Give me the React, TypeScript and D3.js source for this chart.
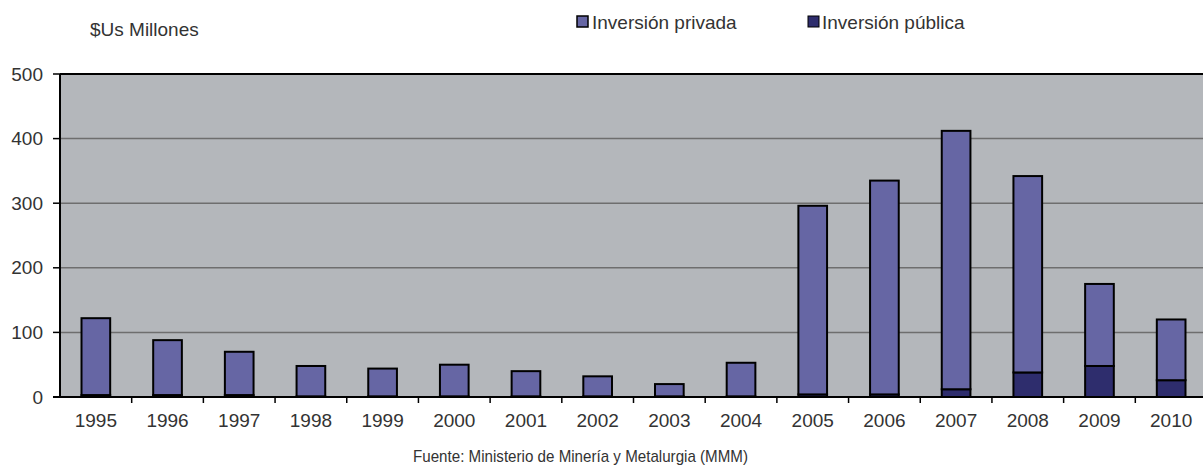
import * as d3 from "d3";
import React from "react";

const years = ["1995","1996","1997","1998","1999","2000","2001","2002","2003","2004","2005","2006","2007","2008","2009","2010"];
const publica = [3, 3, 3, 1, 1, 1, 1, 1, 1, 1, 4, 4, 12, 38, 48, 26];
const privada = [119, 85, 67, 47, 43, 49, 39, 31, 19, 52, 292, 331, 400, 304, 127, 94];
const yTicks = [0, 100, 200, 300, 400, 500];

const W = 1203;
const H = 466;
const margin = { top: 74, right: -4, bottom: 69, left: 60 };
const font = "'Liberation Sans', Arial, sans-serif";

export default function App() {
  const innerW = W - margin.left - margin.right;
  const innerH = H - margin.top - margin.bottom;

  const x = d3.scaleBand<string>().domain(years).range([0, innerW]).paddingInner(0.6).paddingOuter(0.3);
  const step = x.step();
  const y = d3.scaleLinear().domain([0, 500]).range([innerH, 0]);

  const rows = years.map((yr, i) => ({ yr, publica: publica[i], privada: privada[i] }));
  const stacked = d3.stack<any>().keys(["publica", "privada"])(rows);
  const colors: Record<string, string> = { publica: "#2e2d6d", privada: "#6666a4" };

  const bandStart = (yr: string) => (x(yr) as number) - x.paddingOuter() * step;

  return (
    <svg width={W} height={H} style={{ position: "absolute", left: 0, top: 0, background: "#fff" }}>
      <g transform={`translate(${margin.left},${margin.top})`}>
        <rect x={0} y={0} width={innerW} height={innerH} fill="#b4b7bb" />
        {yTicks.filter((t) => t > 0 && t < 500).map((t) => (
          <line key={t} x1={0} x2={innerW} y1={y(t)} y2={y(t)} stroke="#6e6e6e" strokeWidth={1.5} />
        ))}
        {stacked.map((layer) => (
          <g key={layer.key} fill={colors[layer.key]}>
            {layer.map((d, i) => (
              <rect
                key={i}
                x={x(years[i])}
                y={y(d[1])}
                width={x.bandwidth()}
                height={Math.max(0, y(d[0]) - y(d[1]))}
                stroke="#000"
                strokeWidth={2}
              />
            ))}
          </g>
        ))}
        {/* top border */}
        <line x1={0} x2={innerW} y1={0} y2={0} stroke="#000" strokeWidth={2} />
        {/* y axis */}
        <line x1={0} x2={0} y1={0} y2={innerH} stroke="#000" strokeWidth={2} />
        {yTicks.map((t) => (
          <g key={t} transform={`translate(0,${y(t)})`}>
            <line x1={-7} x2={0} stroke="#000" strokeWidth={1.5} />
            <text x={-17} dy="0.35em" textAnchor="end" fontFamily={font} fontSize={19} fill="#333">
              {t}
            </text>
          </g>
        ))}
        {/* x axis */}
        <line x1={-7} x2={innerW} y1={innerH} y2={innerH} stroke="#000" strokeWidth={2} />
        {years.map((yr, i) => (
          <g key={yr}>
            {i > 0 && (
              <line x1={bandStart(yr)} x2={bandStart(yr)} y1={innerH} y2={innerH + 6} stroke="#000" strokeWidth={1.5} />
            )}
            <text
              x={(x(yr) as number) + x.bandwidth() / 2}
              y={innerH + 30}
              textAnchor="middle"
              fontFamily={font}
              fontSize={19}
              fill="#333"
            >
              {yr}
            </text>
          </g>
        ))}
      </g>
      <text x={90} y={36} fontFamily={font} fontSize={19} fill="#333">$Us Millones</text>
      <rect x={577} y={16} width={11} height={11} fill={colors.privada} stroke="#000" strokeWidth={1.5} />
      <text x={592} y={29} fontFamily={font} fontSize={19} fill="#333">Inversión privada</text>
      <rect x={808} y={16} width={11} height={11} fill={colors.publica} stroke="#000" strokeWidth={1} />
      <text x={822} y={29} fontFamily={font} fontSize={19} fill="#333">Inversión pública</text>
      <text
        x={413}
        y={462}
        fontFamily={font}
        fontSize={17}
        textLength={335}
        lengthAdjust="spacingAndGlyphs"
        fill="#333"
      >
        Fuente: Ministerio de Minería y Metalurgia (MMM)
      </text>
    </svg>
  );
}
